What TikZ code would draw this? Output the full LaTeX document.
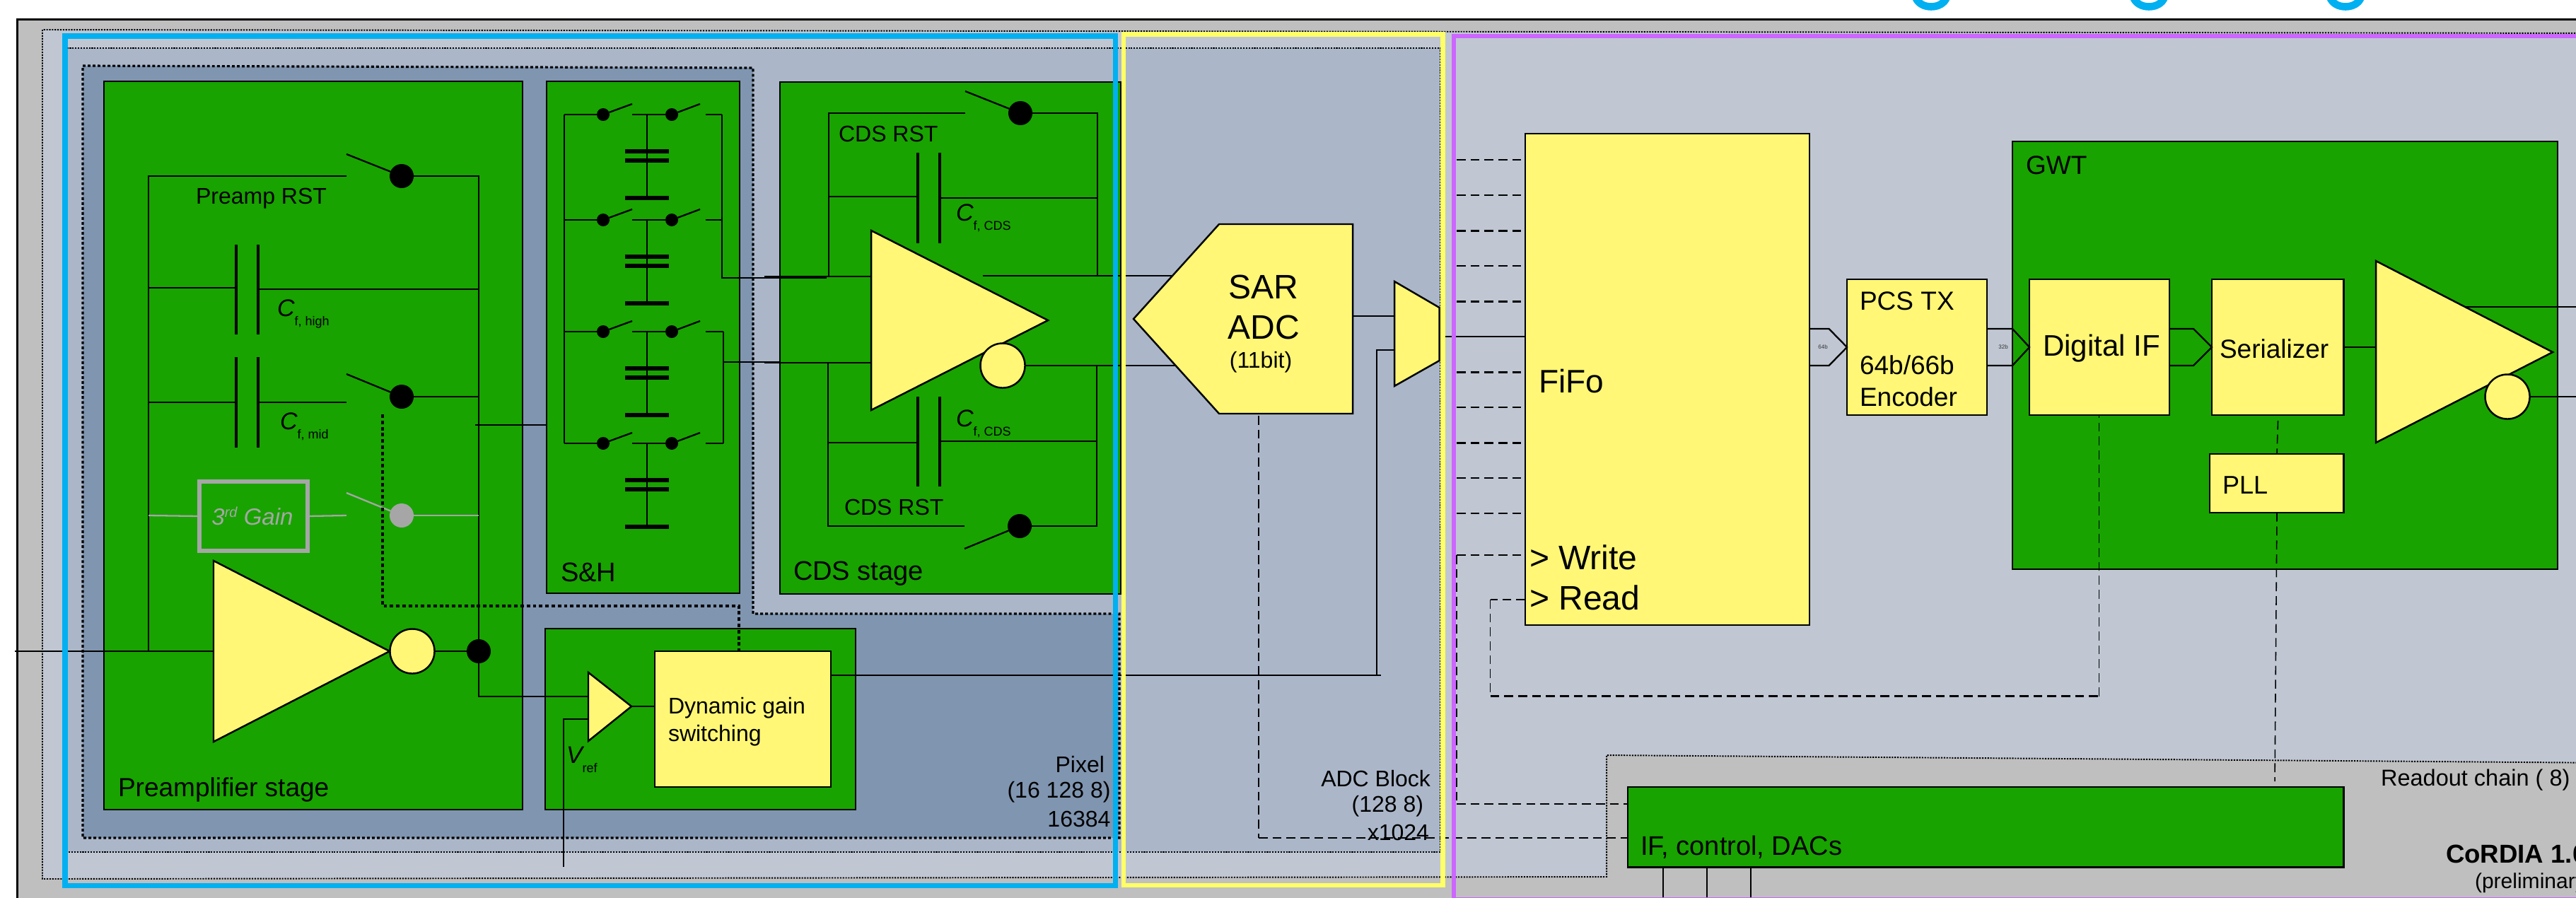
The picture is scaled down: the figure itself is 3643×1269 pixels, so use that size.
\documentclass[tikz,border=0pt]{standalone}
\usepackage{fontspec}
\setmainfont{Liberation Sans}
\usetikzlibrary{calc}
\definecolor{cGray}{HTML}{BFBFBF}
\definecolor{cLight}{HTML}{C0C7D3}
\definecolor{cMid}{HTML}{ABB7C9}
\definecolor{cDark}{HTML}{8095B0}
\definecolor{cGreen}{HTML}{18A300}
\definecolor{cYel}{HTML}{FFF775}
\definecolor{cBlue}{HTML}{00B0F0}
\definecolor{cFrameY}{HTML}{FFFF66}
\definecolor{cPurple}{HTML}{CC66FF}
\definecolor{cGhost}{HTML}{A6A6A6}
\newcommand\fpx[1]{\fontsize{\dimexpr#1\dimexpr0.2845pt\relax\relax}{\dimexpr#1\dimexpr0.34pt\relax\relax}\selectfont}
\newcommand\bx[6]{%
  \pgfmathsetmacro\bcx{(#3+#5)/2}\pgfmathsetmacro\bcy{(#4+#6)/2}%
  \pgfmathsetmacro\bw{(#5-#3)*0.01}\pgfmathsetmacro\bh{(#6-#4)*0.01}%
  \node[#2,minimum width=\bw cm,minimum height=\bh cm] (#1) at (\bcx,\bcy) {};}
\newcommand\capl[1]{{\fpx{34}\itshape C}\raisebox{-0.7ex}{\fpx{18}#1}}
\tikzset{
  wire/.style={draw=black,line width=0.65pt},
  wireg/.style={draw=cGhost,line width=0.65pt},
  plate/.style={draw=black,line width=1.25pt},
  bar/.style={draw=black,line width=1.7pt},
  ctl/.style={draw=black,line width=0.7pt,dash pattern=on 3.6pt off 2pt},
  ctld/.style={draw=black,line width=0.95pt,dash pattern=on 1.4pt off 1.1pt},
  ctlthin/.style={draw=black,line width=0.45pt,dash pattern=on 3.6pt off 2pt},
  dotthin/.style={draw=black,line width=0.55pt,dash pattern=on 0.6pt off 0.5pt},
  dotthick/.style={draw=black,line width=0.9pt,dash pattern=on 1.1pt off 0.9pt},
  gbox/.style={draw=black,line width=0.7pt,fill=cGreen,inner sep=0pt,outer sep=0pt},
  ybox/.style={draw=black,line width=0.7pt,fill=cYel,inner sep=0pt,outer sep=0pt},
  ypoly/.style={draw=black,line width=0.7pt,fill=cYel,line join=miter},
  sdot/.style={circle,fill=black,inner sep=0pt,outer sep=0pt,minimum size=0.34cm},
  smdot/.style={circle,fill=black,inner sep=0pt,outer sep=0pt,minimum size=0.18cm},
  gdot/.style={circle,fill=cGhost,inner sep=0pt,outer sep=0pt,minimum size=0.34cm},
  bub/.style={circle,draw=black,line width=0.7pt,fill=cYel,inner sep=0pt,outer sep=0pt,minimum size=0.63cm},
  lbl/.style={inner sep=0pt,outer sep=0pt,align=left},
}
\begin{document}
\begin{tikzpicture}[x=0.01cm,y=-0.01cm]
\useasboundingbox (0,0) rectangle (3643,1269);
\clip (0,0) rectangle (3643,1269);
% title descenders
\foreach \gx in {2731,3039,3317}
  \draw[cBlue,line width=3pt] (\gx-22,-4) .. controls (\gx-16,14) and (\gx+16,14) .. (\gx+22,-4);
% regions
\draw[black,line width=0.7pt,fill=cGray] (24.5,27.5) rectangle (3700,1300);
\path[fill=cLight] (60,42) -- (3700,47) -- (3700,1079) -- (2272,1068) -- (2272,1240) -- (60,1243) -- cycle;
\draw[dotthin] (3700,47) -- (60,42) -- (60,1243) -- (2272,1240) -- (2272,1068) -- (3700,1079);
\draw[fill=cMid,dotthin] (93,68) rectangle (2037,1205);
\draw[fill=cDark,dotthick] (117,93) -- (1065,96) -- (1065,868) -- (1583,868) -- (1583,1185) -- (117,1185) -- cycle;
% green blocks
\bx{pre}{gbox}{147}{115}{739}{1145}
\bx{sh}{gbox}{773}{115}{1046}{839}
\bx{cds}{gbox}{1103}{116}{1585}{840}
\bx{dgs}{gbox}{771}{889}{1210}{1145}
\bx{gwt}{gbox}{2846}{200}{3617}{805}
\bx{ctrl}{gbox}{2302}{1113}{3314.5}{1226.5}
% --- preamp wiring
\node[sdot] (swA) at (568,249) {};
\node[sdot] (swB) at (568,561) {};
\node[gdot] (swC) at (568,729) {};
\node[sdot] (jn) at (677,921) {};
\coordinate (paA) at (302,793); \coordinate (paB) at (302,1049); \coordinate (paT) at (551,921);
\coordinate (paI) at (302,921);
\coordinate (in) at (21,921);
\draw[wire] (in) -- (paI);
\draw[wire] (210,921) -- (210,249) -- (490,249);
\draw[wire] (swA) -- (677,249) -- (jn);
\draw[wire] (490,218) -- (swA);
\draw[wire] (210,407) -- (334,407); \draw[wire] (365,409) -- (677,409);
\draw[wire] (210,569) -- (334,569); \draw[wire] (365,569) -- (490,569);
\draw[wire] (490,529) -- (swB); \draw[wire] (swB) -- (677,561);
\foreach \px in {334,365} {
  \draw[plate] (\px,346) -- (\px,473);
  \draw[plate] (\px,505) -- (\px,633);
}
\draw[wire] (672,601) -- (sh.west |- 0,601);
% ghost gain
\bx{gain}{draw=cGhost,line width=1.7pt,inner sep=0pt,outer sep=0pt}{282}{681}{435}{779}
\draw[wireg] (210,729) -- (gain.west); \draw[wireg] (gain.east) -- (490,729);
\draw[wireg] (490,697) -- (swC); \draw[wireg] (swC) -- (677,729);
% preamp output
\draw[wire] (jn) -- (677,985) -- (832,985);
\draw[ctld] (541,586) -- (541,857) -- (1045,857) -- (1045,921);
\draw[ypoly] (paA) -- (paB) -- (paT) -- cycle;
\node[bub] (bubA) at (583,921) {};
\draw[wire] (bubA) -- (jn);
% --- S&H
\draw[wire] (798,162) -- (798,627);
\foreach \ry/\rx in {162/1021,311/1021,469/1023,627/1023} {
  \node[smdot] (a\ry) at (853,\ry) {};
  \node[smdot] (b\ry) at (950,\ry) {};
  \draw[wire] (798,\ry) -- (a\ry);
  \draw[wire] (a\ry) -- (894,\ry-15);
  \draw[wire] (894,\ry) -- (b\ry);
  \draw[wire] (b\ry) -- (990,\ry-15);
  \draw[wire] (998,\ry) -- (\rx,\ry);
  \draw[wire] (915,\ry) -- (915,\ry+118);
  \draw[bar] (884,\ry+52) -- (946,\ry+52);
  \draw[bar] (884,\ry+65) -- (946,\ry+65);
  \draw[bar] (884,\ry+118) -- (946,\ry+118);
}
\draw[wire] (1021,162) -- (1021,393) -- (1169,393);
\draw[wire] (1023,469) -- (1023,627);
\draw[wire] (1023,512) -- (1103,512);
% --- CDS
\node[sdot] (swD) at (1443,160) {};
\node[sdot] (swE) at (1442,744) {};
\coordinate (caA) at (1232,326); \coordinate (caB) at (1232,580); \coordinate (caT) at (1482,453);
\draw[wire] (1081,391) -- (1232,391);
\draw[wire] (1081,513) -- (1236,513);
\draw[wire] (1172,391) -- (1172,160) -- (1365,160);
\draw[wire] (1365,129) -- (swD); \draw[wire] (swD) -- (1552,160) -- (1552,390);
\draw[wire] (1171,513) -- (1171,744) -- (1364,744);
\draw[wire] (1364,776) -- (swE); \draw[wire] (swE) -- (1551,744) -- (1551,517);
\draw[wire] (1172,278) -- (1298,278); \draw[wire] (1329,280) -- (1552,280);
\draw[wire] (1171,626) -- (1298,626); \draw[wire] (1329,624) -- (1551,624);
\foreach \px in {1298,1329} {
  \draw[plate] (\px,216) -- (\px,344);
  \draw[plate] (\px,561) -- (\px,688);
}
\draw[wire] (1390,390) -- (1660,390);
\draw[ypoly] (caA) -- (caB) -- (caT) -- cycle;
\node[bub] (bubB) at (1418,517) {};
\draw[wire] (bubB) -- (1664,517);
% --- comparator, dynamic gain switching
\coordinate (cmA) at (832,951); \coordinate (cmB) at (832,1048); \coordinate (cmT) at (893,999);
\bx{dyn}{ybox}{926}{921}{1175}{1113}
\draw[wire] (797,1226) -- (797,1017) -- (832,1017);
\draw[wire] (cmT) -- (dyn.west |- cmT);
\draw[ypoly] (cmA) -- (cmB) -- (cmT) -- cycle;
\coordinate (muxC) at (1972,495);
\draw[wire] (dyn.east |- 0,955) -- (1953,955);
\draw[wire] (1947,955) -- (1947,495) -- (muxC);
% --- SAR ADC and mux
\coordinate (sarT) at (1603,451);
\draw[ypoly] (sarT) -- (1724,317) -- (1913,317) -- (1913,585) -- (1724,585) -- cycle;
\draw[wire] (1913,447) -- (1972,447);
\draw[ypoly] (1972,398) -- (2035.5,435) -- (2035.5,510) -- (1972,546) -- cycle;
% --- FiFo and readout
\bx{fifo}{ybox}{2157}{189}{2559}{884}
\bx{pcs}{ybox}{2612}{395}{2810}{587}
\bx{dig}{ybox}{2870}{395}{3068}{587}
\bx{ser}{ybox}{3128}{395}{3314.5}{587}
\bx{pll}{ybox}{3125}{642}{3314.5}{725}
\draw[wire] (2035.5,476) -- (fifo.west |- 0,476);
\foreach \dy in {226,276,326.5,376,426.5,526.5,576,626.5,676,726,785}
  \draw[ctl] (2060,\dy) -- (fifo.west |- 0,\dy);
\draw[ctlthin] (2060,785) -- (2060,1137);
\draw[ctl] (2060,1137) -- (ctrl.west |- 0,1137);
\draw[ctlthin] (1780,588) -- (1780,1185);
\draw[ctl] (1780,1185) -- (ctrl.west |- 0,1185);
\draw[ctl] (fifo.west |- 0,848) -- (2107.5,848);
\draw[ctlthin] (2107.5,848) -- (2107.5,984.5);
\draw[ctl] (2107.5,984.5) -- (2968.5,984.5);
\draw[ctlthin] (2968.5,984.5) -- (dig.south -| 2968.5,0);
\draw[ctlthin] (3221.5,595) -- (pll.north -| 3220,0);
\draw[ctlthin] (pll.south -| 3220,0) -- (3217,1105);
% data pentagons
\draw[wire] (fifo.east |- 0,465) -- (2586.5,465) -- (pcs.west |- 0,491) -- (2586.5,517) -- (fifo.east |- 0,517);
\draw[wire] (pcs.east |- 0,465) -- (2846,465) -- (dig.west |- 0,491) -- (2846,517) -- (pcs.east |- 0,517);
\draw[wire] (dig.east |- 0,465) -- (3102,465) -- (ser.west |- 0,491) -- (3102,517) -- (dig.east |- 0,517);
% driver
\coordinate (drA) at (3360,369); \coordinate (drB) at (3360,626); \coordinate (drT) at (3610,498);
\draw[wire] (ser.east |- 0,491) -- (3360,491);
\draw[wire] (3484,434) -- (3700,434);
\draw[ypoly] (drA) -- (drB) -- (drT) -- cycle;
\node[bub] (bubC) at (3546,561) {};
\draw[wire] (bubC) -- (3700,561);
% control pins
\foreach \cx in {2352,2414,2476}
  \draw[wire] (ctrl.south -| \cx,0) -- (\cx,1290);
% --- frames
\draw[cBlue,line width=2pt] (92,51) rectangle (1577.5,1252);
\draw[cFrameY,line width=1.9pt] (1589,48.5) rectangle (2040.5,1252);
\draw[cPurple,line width=1.7pt] (3700,51) -- (2056,51) -- (2056,1272) -- (3700,1272);
% --- text
\node[lbl,anchor=west,font=\fpx{32}] (tPreRst) at (277,281) {Preamp RST};
\node[lbl,anchor=base west] (tCh) at (392,447) {\capl{f, high}};
\node[lbl,anchor=base west] (tCm) at (396,607) {\capl{f, mid}};
\node[lbl,anchor=center,font=\fpx{33}\itshape,text=cGhost] (tGain) at (357,730) {3\raisebox{0.6ex}{\fpx{20}rd} Gain};
\node[lbl,anchor=west,font=\fpx{37}] (tPre) at (167,1117) {Preamplifier stage};
\node[lbl,anchor=west,font=\fpx{38}] (tSh) at (793,809) {S\&H};
\node[lbl,anchor=west,font=\fpx{38}] (tCds) at (1122,811) {CDS stage};
\node[lbl,anchor=west,font=\fpx{32}] (tRa) at (1186,189) {CDS RST};
\node[lbl,anchor=west,font=\fpx{32}] (tRb) at (1194,717) {CDS RST};
\node[lbl,anchor=base west] (tCa) at (1352,312) {\capl{f, CDS}};
\node[lbl,anchor=base west] (tCb) at (1352,603) {\capl{f, CDS}};
\node[lbl,anchor=base west] (tV) at (801,1079) {{\fpx{34}\itshape V}\raisebox{-0.7ex}{\fpx{18}ref}};
\node[lbl,anchor=west,font=\fpx{32}] (tDa) at (945,1001) {Dynamic gain};
\node[lbl,anchor=west,font=\fpx{32}] (tDb) at (945,1040) {switching};
\node[lbl,anchor=east,font=\fpx{32}] (tPa) at (1562,1081) {Pixel};
\node[lbl,anchor=east,font=\fpx{32}] (tPb) at (1570.5,1120) {(16 128 8)};
\node[lbl,anchor=east,font=\fpx{32}] (tPc) at (1570.5,1158) {16384};
\node[lbl,anchor=east,font=\fpx{32}] (tAa) at (2023,1101) {ADC Block};
\node[lbl,anchor=east,font=\fpx{32}] (tAb) at (2013,1140) {(128 8)};
\node[lbl,anchor=east,font=\fpx{32}] (tAc) at (2021,1177) {x1024};
\node[lbl,anchor=center,font=\fpx{48}] (tSa) at (1787,406) {SAR};
\node[lbl,anchor=center,font=\fpx{48}] (tSb) at (1787,463) {ADC};
\node[lbl,anchor=center,font=\fpx{32}] (tSc) at (1783,512) {(11bit)};
\node[lbl,anchor=west,font=\fpx{46}] (tFi) at (2176,539) {FiFo};
\node[lbl,anchor=west,font=\fpx{48}] (tWr) at (2163,788) {> Write};
\node[lbl,anchor=west,font=\fpx{48}] (tRd) at (2163,845) {> Read};
\node[lbl,anchor=center,font=\fpx{8},text=black!80] (t64) at (2578,491) {64b};
\node[lbl,anchor=center,font=\fpx{8},text=black!80] (t32) at (2833,491) {32b};
\node[lbl,anchor=west,font=\fpx{37}] (tPt) at (2630,426) {PCS TX};
\node[lbl,anchor=west,font=\fpx{37}] (tPe) at (2630,516) {64b/66b};
\node[lbl,anchor=west,font=\fpx{37}] (tPn) at (2630,561) {Encoder};
\node[lbl,anchor=west,font=\fpx{37}] (tGw) at (2865,234) {GWT};
\node[lbl,anchor=west,font=\fpx{42}] (tDi) at (2889,493) {Digital IF};
\node[lbl,anchor=west,font=\fpx{37}] (tSe) at (3139,493) {Serializer};
\node[lbl,anchor=west,font=\fpx{36}] (tPl) at (3143,686) {PLL};
\node[lbl,anchor=west,font=\fpx{38}] (tIf) at (2320,1198) {IF, control, DACs};
\node[lbl,anchor=west,font=\fpx{32.5}] (tRo) at (3367,1103) {Readout chain ( 8)};
\node[lbl,anchor=west,font=\fpx{36.6}\bfseries] (tCo) at (3459,1208) {CoRDIA 1.0};
\node[lbl,anchor=west,font=\fpx{30}] (tPr) at (3500,1249) {(preliminary)};
\end{tikzpicture}
\end{document}
